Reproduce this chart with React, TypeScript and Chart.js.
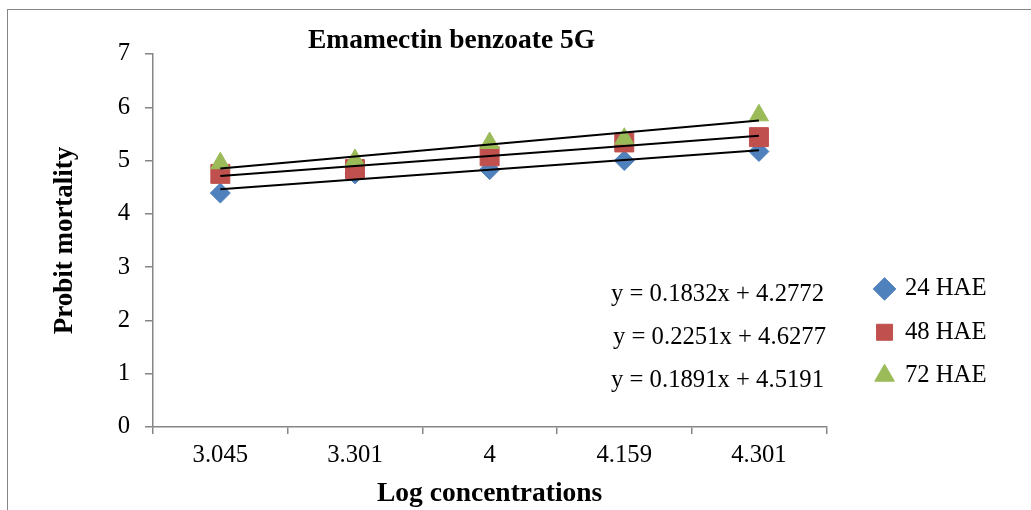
import React, { useEffect, useRef } from 'react';
import { Chart, registerables } from 'chart.js';

Chart.register(...registerables);

// ---- data ----
const categories = ['3.045', '3.301', '4', '4.159', '4.301'];
const hae24 = [4.39, 4.75, 4.83, 5.0, 5.17];
const hae48 = [4.75, 4.84, 5.08, 5.34, 5.44];
const hae72 = [4.95, 5.01, 5.33, 5.41, 5.85];
const seriesNames = ['24 HAE', '48 HAE', '72 HAE'];
// linear trend lines (y = slope * x + intercept, x = 1..5)
const trendSlopes = [0.1832, 0.1891, 0.2251];
const trendIntercepts = [4.2772, 4.5191, 4.6277];
const equationLabels = [
  'y = 0.1832x + 4.2772',
  'y = 0.2251x + 4.6277',
  'y = 0.1891x + 4.5191',
];
const yTicks = [0, 1, 2, 3, 4, 5, 6, 7];
const chartTitle = 'Emamectin benzoate 5G';
const xTitle = 'Log concentrations';
const yTitle = 'Probit mortality';

// ---- styles ----
const FONT = "'Liberation Serif', 'Times New Roman', serif";
const AXIS_GRAY = '#868686';
const colors = ['#4F81BD', '#C0504D', '#9BBB59'];
const pointStyles = ['rectRot', 'rect', 'triangle'];
const pointRadii = [10, 13.4, 11];
const eqX = [611, 613, 611];
const eqY = [300.5, 344, 386.5];

const textPlugin = {
  id: 'annotText',
  afterDraw(chart: any) {
    const ctx = chart.ctx as CanvasRenderingContext2D;
    ctx.save();
    ctx.fillStyle = '#000';
    ctx.textBaseline = 'alphabetic';
    ctx.textAlign = 'left';
    ctx.font = `bold 27.5px ${FONT}`;
    ctx.fillText(chartTitle, 308, 48.3);
    ctx.font = `24.7px ${FONT}`;
    equationLabels.forEach((t, i) => ctx.fillText(t, eqX[i], eqY[i]));
    ctx.restore();
  },
};

export default function App() {
  const canvasRef = useRef<HTMLCanvasElement | null>(null);

  useEffect(() => {
    if (!canvasRef.current) return;
    const seriesData = [hae24, hae48, hae72];

    const scatterSets = seriesData.map((d, i) => ({
      type: 'line' as const,
      label: seriesNames[i],
      data: d,
      showLine: false,
      pointStyle: pointStyles[i],
      pointRadius: pointRadii[i],
      pointHoverRadius: pointRadii[i],
      pointBackgroundColor: colors[i],
      pointBorderColor: colors[i],
      pointBorderWidth: 1,
      backgroundColor: colors[i],
      borderColor: colors[i],
      order: 3 - i,
    }));

    const trendSets = seriesData.map((_, i) => ({
      type: 'line' as const,
      label: 'trend ' + seriesNames[i],
      data: categories.map((__, k) => trendIntercepts[i] + trendSlopes[i] * (k + 1)),
      borderColor: '#000000',
      borderWidth: 2,
      pointRadius: 0,
      pointHoverRadius: 0,
      fill: false,
      tension: 0,
      order: 0,
    }));

    const chart = new Chart(canvasRef.current, {
      type: 'line',
      data: {
        labels: categories,
        datasets: [...scatterSets, ...trendSets] as any,
      },
      options: {
        animation: false,
        responsive: false,
        events: [],
        layout: { padding: { top: 54, left: 0, right: 34.5, bottom: 0 } },
        plugins: {
          title: { display: false },
          tooltip: { enabled: false },
          legend: {
            display: true,
            position: 'right',
            align: 'start',
            title: {
              display: true,
              text: '',
              padding: { top: 192, bottom: 0 },
              font: { size: 10, lineHeight: 1.2 },
            },
            labels: {
              usePointStyle: true,
              boxWidth: 16,
              boxHeight: 16,
              padding: 18.6,
              color: '#000',
              font: { family: FONT, size: 24.7 },
              filter: (item: any) => item.datasetIndex < 3,
              sort: (a: any, b: any) => a.datasetIndex - b.datasetIndex,
            },
          },
        },
        scales: {
          x: {
            type: 'category',
            offset: true,
            grid: {
              display: true,
              offset: true,
              drawOnChartArea: false,
              drawTicks: true,
              tickLength: 7,
              color: AXIS_GRAY,
              lineWidth: 1.5,
            },
            border: { display: true, color: AXIS_GRAY, width: 1.5 },
            ticks: {
              color: '#000',
              font: { family: FONT, size: 24.7 },
              padding: 7,
              maxRotation: 0,
              autoSkip: false,
            },
            title: {
              display: true,
              text: xTitle,
              color: '#000',
              font: { family: FONT, size: 27.5, weight: 'bold' },
              padding: { top: 0, bottom: 0 },
            },
            afterFit: (s: any) => {
              s.height = 83;
            },
          },
          y: {
            type: 'linear',
            position: 'left',
            min: 0,
            max: 7,
            afterBuildTicks: (s: any) => {
              s.ticks = yTicks.map((v) => ({ value: v }));
            },
            grid: {
              display: true,
              drawOnChartArea: false,
              drawTicks: true,
              tickLength: 8,
              color: AXIS_GRAY,
              lineWidth: 1.5,
            },
            border: { display: true, color: AXIS_GRAY, width: 1.5 },
            ticks: {
              color: '#000',
              font: { family: FONT, size: 24.7 },
              padding: 15,
            },
            title: {
              display: true,
              text: yTitle,
              color: '#000',
              font: { family: FONT, size: 27, weight: 'bold' },
              padding: { top: 48.8, bottom: 0 },
            },
            afterFit: (s: any) => {
              s.width = 153;
            },
          },
          yGap: {
            type: 'linear',
            position: 'right',
            display: true,
            min: 0,
            max: 1,
            grid: { display: false },
            border: { display: false },
            ticks: { display: false },
            afterFit: (s: any) => {
              s.width = 31.7;
            },
          },
        },
      } as any,
      plugins: [textPlugin],
    });

    return () => chart.destroy();
  }, []);

  return (
    <div
      style={{
        position: 'fixed',
        left: 0,
        top: 0,
        width: 1031,
        height: 510,
        background: '#ffffff',
        overflow: 'hidden',
      }}
    >
      <canvas ref={canvasRef} width={1031} height={510} style={{ display: 'block' }} />
      <div
        style={{
          position: 'absolute',
          left: 7,
          top: 9,
          width: 1030,
          height: 510,
          borderLeft: `1px solid ${AXIS_GRAY}`,
          borderTop: `1px solid ${AXIS_GRAY}`,
          boxSizing: 'border-box',
          pointerEvents: 'none',
        }}
      />
    </div>
  );
}
